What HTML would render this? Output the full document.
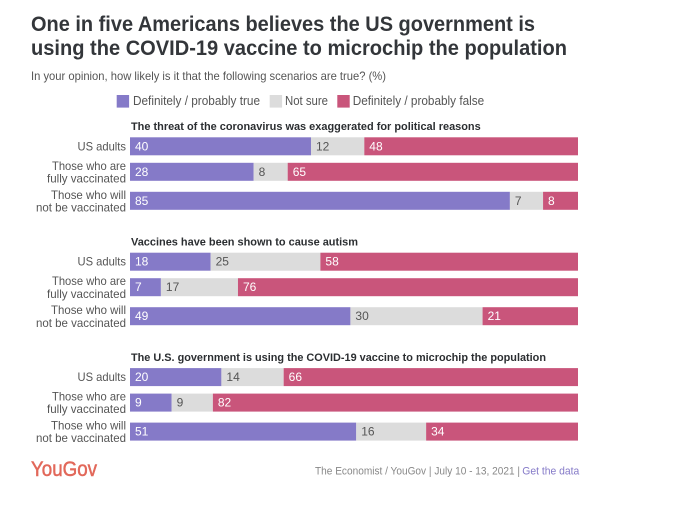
<!DOCTYPE html>
<html lang="en">
<head>
<meta charset="utf-8">
<title>One in five Americans believes the US government is using the COVID-19 vaccine to microchip the population</title>
<style>
html,body{margin:0;padding:0;background:#fff;width:680px;height:511px;overflow:hidden}
svg{display:block}
text{font-family:"Liberation Sans",sans-serif}
a{cursor:pointer}
</style>
</head>
<body>
<svg id="chart" xmlns="http://www.w3.org/2000/svg" width="680" height="511" viewBox="0 0 680 511">
  <rect x="0" y="0" width="680" height="511" fill="#ffffff"/>
  <text x="31" y="31" font-size="21" font-weight="700" fill="#33363a" textLength="504" lengthAdjust="spacingAndGlyphs">One in five Americans believes the US government is</text>
  <text x="31" y="55" font-size="21" font-weight="700" fill="#33363a" textLength="536" lengthAdjust="spacingAndGlyphs">using the COVID-19 vaccine to microchip the population</text>
  <text x="31" y="80" font-size="12" fill="#555555" textLength="355" lengthAdjust="spacingAndGlyphs">In your opinion, how likely is it that the following scenarios are true? (%)</text>

  <g>
    <rect x="116.7" y="95" width="12.4" height="12.6" fill="#857ac8"/>
    <text x="133" y="105" font-size="12.5" fill="#555555" textLength="127" lengthAdjust="spacingAndGlyphs">Definitely / probably true</text>
    <rect x="269.7" y="95" width="12.4" height="12.6" fill="#dcdcdc"/>
    <text x="285" y="105" font-size="12.5" fill="#555555" textLength="43" lengthAdjust="spacingAndGlyphs">Not sure</text>
    <rect x="337.3" y="95" width="12.4" height="12.6" fill="#c9557b"/>
    <text x="352.7" y="105" font-size="12.5" fill="#555555" textLength="131.5" lengthAdjust="spacingAndGlyphs">Definitely / probably false</text>
  </g>

  <g id="plot"></g>

  <text x="31" y="476" font-size="21" font-weight="400" fill="#e2685a" stroke="#e2685a" stroke-width="0.5" textLength="66" lengthAdjust="spacingAndGlyphs">YouGov</text>
  <text x="315" y="474.5" font-size="11" fill="#888888" textLength="205" lengthAdjust="spacingAndGlyphs">The Economist / YouGov | July 10 - 13, 2021 |</text>
  <text x="522.3" y="474.5" font-size="11" fill="#857ac8" textLength="57" lengthAdjust="spacingAndGlyphs">Get the data</text>
</svg>
<script>
// Chart data
const groupTitles = [
  "The threat of the coronavirus was exaggerated for political reasons",
  "Vaccines have been shown to cause autism",
  "The U.S. government is using the COVID-19 vaccine to microchip the population"
];
const rowLabels = [
  ["US adults"],
  ["Those who are", "fully vaccinated"],
  ["Those who will", "not be vaccinated"]
];
const seriesNames = ["true", "not-sure", "false"];
const definitelyTrue = [
  [40.4, 27.6, 84.8],
  [18.0, 6.9, 49.2],
  [20.4, 9.3, 50.5]
];
const notSure = [
  [11.9, 7.6, 7.4],
  [24.5, 17.2, 29.5],
  [13.9, 9.2, 15.6]
];
const definitelyFalse = [
  [47.7, 64.8, 7.8],
  [57.5, 75.9, 21.3],
  [65.7, 81.5, 33.9]
];

// Axis functions and styling
const SVG_NS = "http://www.w3.org/2000/svg";
const plot = document.getElementById("plot");
const fills = ["#857ac8", "#dcdcdc", "#c9557b"];
const labelFills = ["#ffffff", "#555555", "#ffffff"];
const titleWidths = [349.7, 227, 415];
const labelWidths = {
  "US adults": 48.5,
  "Those who are": 74,
  "fully vaccinated": 79,
  "Those who will": 75,
  "not be vaccinated": 90
};
const BAR_HEIGHT = 18;
function xScale(v) { return 130 + v * 4.48; }
function rowY(g, r) { return 137.3 + g * 115.4 + (r === 0 ? 0 : r * 29 - 3.5); }
function titleY(g) { return 130 + g * 115.5; }

function addText(content, x, y, size, fill) {
  const t = document.createElementNS(SVG_NS, "text");
  t.setAttribute("x", x);
  t.setAttribute("y", y);
  t.setAttribute("font-size", size);
  t.setAttribute("fill", fill);
  t.textContent = content;
  plot.appendChild(t);
  return t;
}

groupTitles.forEach(function (title, g) {
  const head = addText(title, 131, titleY(g), 11, "#2b2e31");
  head.setAttribute("font-weight", "700");
  head.setAttribute("textLength", titleWidths[g]);
  head.setAttribute("lengthAdjust", "spacingAndGlyphs");
  
  

  rowLabels.forEach(function (lines, r) {
    const top = rowY(g, r);
    lines.forEach(function (line, i) {
      const baseline = lines.length === 1 ? top + 13 : top + 7 + i * 12.6;
      const lab = addText(line, 126, baseline, 12, "#555555");
      lab.setAttribute("text-anchor", "end");
      lab.setAttribute("textLength", labelWidths[line]);
      lab.setAttribute("lengthAdjust", "spacingAndGlyphs");
      
      
    });

    const values = [definitelyTrue[g][r], notSure[g][r], definitelyFalse[g][r]];
    let cumulative = 0;
    values.forEach(function (v, s) {
      const x0 = xScale(cumulative);
      const x1 = xScale(cumulative + v);
      const bar = document.createElementNS(SVG_NS, "rect");
      bar.setAttribute("x", x0);
      bar.setAttribute("y", top);
      bar.setAttribute("width", Math.max(0, x1 - x0));
      bar.setAttribute("height", BAR_HEIGHT);
      bar.setAttribute("fill", fills[s]);
      
      
      bar.setAttribute("data-series", seriesNames[s]);
      plot.appendChild(bar);

      const val = addText(String(Math.round(v)), x0 + 5, top + 13, 12, labelFills[s]);
      
      
      cumulative += v;
    });
  });
});
</script>
</body>
</html>
